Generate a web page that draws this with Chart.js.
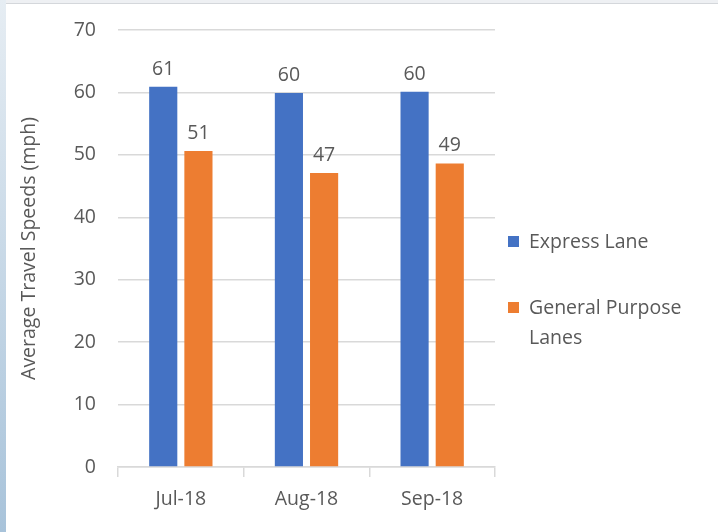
<!DOCTYPE html>
<html>
<meta name="viewport" content="width=device-width, initial-scale=1.0" />
<style>
	html, body {
		width: 100%;
		height: 100%;
		margin: 0;
		padding: 0;
		overflow: hidden;
		background: #ffffff;
	}
	#frame {
		position: absolute;
		left: 0;
		top: 0;
		width: 718px;
		height: 532px;
	}
	#topEdge {
		position: absolute;
		left: 0;
		top: 0;
		width: 718px;
		height: 3px;
		background: #eef0f3;
		border-bottom: 1px solid #d4d7db;
	}
	#leftEdge {
		position: absolute;
		left: 0;
		top: 0;
		width: 6px;
		height: 532px;
		background: linear-gradient(#e6edf3, #a8c3da);
	}
	#legend {
		position: absolute;
		left: 506px;
		top: 226px;
		font-family: "Open Sans", sans-serif;
		font-size: 19.5px;
		color: #595959;
		line-height: 30px;
	}
	.item {
		position: relative;
		padding-left: 23px;
		width: 175px;
		margin-bottom: 36px;
	}
	.swatch {
		position: absolute;
		left: 2px;
		top: 10px;
		width: 11px;
		height: 11px;
	}
</style>
<script src="https://cdn.jsdelivr.net/npm/chart.js"></script>
<script>

	// Chart data
	var months = ["Jul-18", "Aug-18", "Sep-18"];
	var expressLane = [60.9, 59.9, 60.1];
	var generalLanes = [50.6, 47.1, 48.6];
	var seriesNames = ["Express Lane", "General Purpose Lanes"];
	var yTicks = [0, 10, 20, 30, 40, 50, 60, 70];

	var textColour = '#595959';
	var fontName = '"Open Sans", sans-serif';
	var fontSize = 19.5;

	// Draws the rounded value above every bar
	var valueLabels = {
		id: 'valueLabels',
		afterDatasetsDraw: function (chart) {
			var ctx = chart.ctx;
			ctx.save();
			ctx.font = fontSize + 'px ' + fontName;
			ctx.fillStyle = textColour;
			ctx.textAlign = 'center';
			ctx.textBaseline = 'bottom';
			chart.data.datasets.forEach(function (ds, i) {
				chart.getDatasetMeta(i).data.forEach(function (bar, j) {
					ctx.fillText(Math.round(ds.data[j]), bar.x, bar.y - 8);
				});
			});
			ctx.restore();
		}
	};

	window.onload = function () {

		var data = {
			labels: months,
			datasets: [{
				label: seriesNames[0],
				backgroundColor: '#4472C4',
				data: expressLane
			}, {
				label: seriesNames[1],
				backgroundColor: '#ED7D31',
				data: generalLanes
			}]
		};

		var config = {
			type: 'bar',
			data,
			plugins: [valueLabels],
			options: {
				responsive: false,
				animation: false,
				datasets: {
					bar: {
						categoryPercentage: 0.56,
						barPercentage: 0.8
					}
				},
				plugins: {
					legend: { display: false },
					tooltip: { enabled: false }
				},
				scales: {
					y: {
						min: 0,
						max: 70,
						afterBuildTicks: function (axis) {
							axis.ticks = yTicks.map(function (v) { return { value: v }; });
						},
						afterFit: function (axis) {
							axis.width = 108;
							axis.paddingTop = 0;
							axis.paddingBottom = 0;
						},
						border: { display: false },
						grid: {
							color: '#d9d9d9',
							lineWidth: 1.5,
							drawTicks: false
						},
						ticks: {
							color: textColour,
							font: { family: fontName, size: fontSize },
							padding: 22
						},
						title: {
							display: true,
							text: 'Average Travel Speeds (mph)',
							color: textColour,
							font: { family: fontName, size: fontSize },
							padding: { top: 8, bottom: 0 }
						}
					},
					x: {
						afterFit: function (axis) {
							axis.height = 52;
						},
						border: { color: '#d9d9d9', width: 1.5 },
						grid: {
							offset: true,
							drawOnChartArea: false,
							color: '#d9d9d9',
							lineWidth: 1.5,
							tickLength: 10
						},
						ticks: {
							color: textColour,
							font: { family: fontName, size: fontSize },
							padding: 11
						}
					}
				},
				layout: {
					padding: {
						left: 10,
						right: 223,
						top: 30,
						bottom: 13
					}
				}
			}
		};

		var myChart = new Chart(
			document.getElementById('myChart'),
			config
		);

		// Legend built from the chart's own items, so the long name can wrap
		var legend = document.getElementById('legend');
		myChart.legend.legendItems.forEach(function (item) {
			var row = document.createElement('div');
			row.className = 'item';
			var sw = document.createElement('span');
			sw.className = 'swatch';
			sw.style.background = item.fillStyle;
			row.appendChild(sw);
			row.appendChild(document.createTextNode(item.text));
			legend.appendChild(row);
		});
	}

</script>
<body>
	<div id="frame">
		<canvas id="myChart" width="718" height="532"></canvas>
		<div id="topEdge"></div>
		<div id="leftEdge"></div>
		<div id="legend"></div>
	</div>
</body>
</html>
